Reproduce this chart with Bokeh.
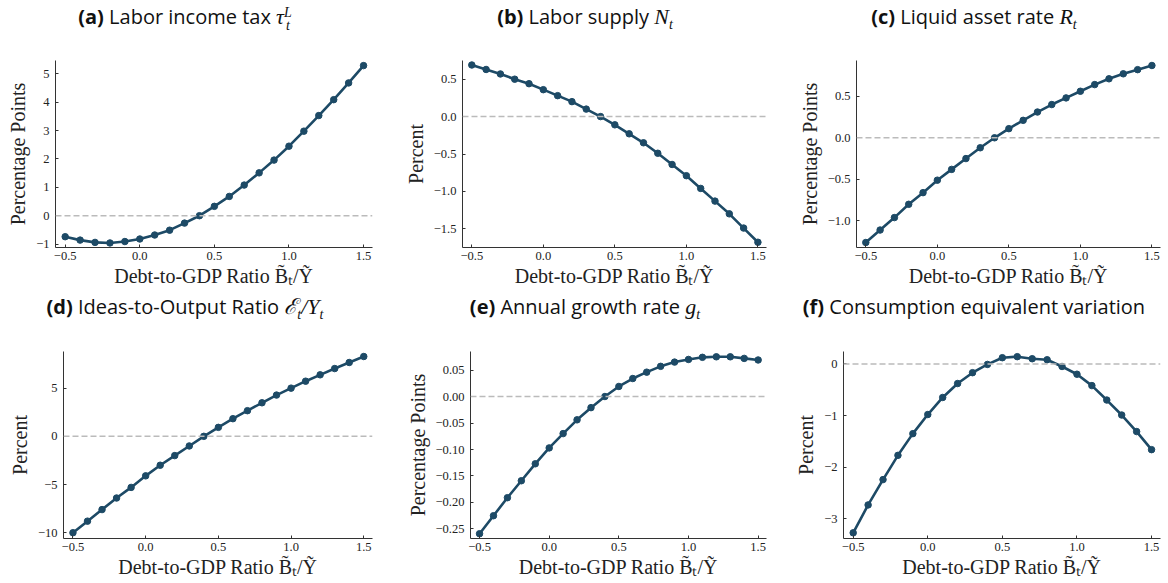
from bokeh.plotting import figure
from bokeh.layouts import column, row
from bokeh.models import Range1d, FixedTicker, Span, Div
from bokeh.embed import file_html
from bokeh.resources import INLINE

# ---------------- data ----------------
debt_ratio = [-0.5, -0.4, -0.3, -0.2, -0.1, 0.0, 0.1, 0.2, 0.3, 0.4, 0.5,
              0.6, 0.7, 0.8, 0.9, 1.0, 1.1, 1.2, 1.3, 1.4, 1.5]

labor_tax = [-0.74, -0.86, -0.94, -0.96, -0.91, -0.82, -0.68, -0.51, -0.26, 0.0, 0.33,
             0.68, 1.08, 1.51, 1.96, 2.45, 2.98, 3.53, 4.09, 4.68, 5.29]
labor_supply = [0.69, 0.63, 0.57, 0.50, 0.44, 0.36, 0.28, 0.20, 0.10, 0.0, -0.11,
                -0.23, -0.35, -0.49, -0.64, -0.79, -0.96, -1.13, -1.30, -1.49, -1.68]
liquid_rate = [-1.26, -1.11, -0.96, -0.80, -0.66, -0.51, -0.38, -0.25, -0.12, 0.0, 0.11,
               0.21, 0.31, 0.40, 0.48, 0.56, 0.64, 0.71, 0.77, 0.82, 0.87]
ideas_output = [-10.0, -8.8, -7.6, -6.4, -5.3, -4.1, -3.0, -2.0, -1.0, 0.0, 0.93,
                1.83, 2.66, 3.48, 4.28, 5.0, 5.72, 6.38, 7.03, 7.66, 8.28]
growth_rate = [-0.259, -0.225, -0.191, -0.159, -0.127, -0.097, -0.070, -0.044, -0.021, 0.0, 0.019,
               0.034, 0.046, 0.057, 0.065, 0.070, 0.074, 0.075, 0.075, 0.072, 0.069]
cons_equiv = [-3.27, -2.73, -2.24, -1.77, -1.35, -0.98, -0.65, -0.38, -0.17, -0.01, 0.12,
              0.14, 0.10, 0.08, -0.05, -0.20, -0.42, -0.70, -0.99, -1.31, -1.66]

x_ticks = [-0.5, 0.0, 0.5, 1.0, 1.5]
x_tick_labels = ["\u22120.5", "0.0", "0.5", "1.0", "1.5"]

a_ticks = [-1, 0, 1, 2, 3, 4, 5]
a_tick_labels = ["\u22121", "0", "1", "2", "3", "4", "5"]
b_ticks = [-1.5, -1.0, -0.5, 0.0, 0.5]
b_tick_labels = ["\u22121.5", "\u22121.0", "\u22120.5", "0.0", "0.5"]
c_ticks = [-1.0, -0.5, 0.0, 0.5]
c_tick_labels = ["\u22121.0", "\u22120.5", "0.0", "0.5"]
d_ticks = [-10, -5, 0, 5]
d_tick_labels = ["\u221210", "\u22125", "0", "5"]
e_ticks = [-0.25, -0.20, -0.15, -0.10, -0.05, 0.0, 0.05]
e_tick_labels = ["\u22120.25", "\u22120.20", "\u22120.15", "\u22120.10", "\u22120.05", "0.00", "0.05"]
f_ticks = [-3, -2, -1, 0]
f_tick_labels = ["\u22123", "\u22122", "\u22121", "0"]

x_label = "Debt-to-GDP Ratio B\u0303\u209c/Y\u0303"

tags = ["(a)", "(b)", "(c)", "(d)", "(e)", "(f)"]
titles = ["Labor income tax", "Labor supply", "Liquid asset rate",
          "Ideas-to-Output Ratio", "Annual growth rate", "Consumption equivalent variation"]

LINE = "#1d4a66"
SERIF = "Liberation Serif"
SANS = "Open Sans"

MATH = "font-family:'Liberation Serif',serif;font-style:italic;font-size:22px;"
SUB = "font-family:'Liberation Serif',serif;font-style:italic;font-size:14px;position:relative;top:5px;"
STACK = ("display:inline-block;vertical-align:-6px;font-family:'Liberation Serif',serif;"
         "font-style:italic;font-size:14px;line-height:13px;")

math_html = [
    f"<span style=\"{MATH}\">\u03c4</span><span style=\"{STACK}\">L<br>t</span>",
    f"<span style=\"{MATH}\">N</span><span style=\"{SUB}\">t</span>",
    f"<span style=\"{MATH}\">R</span><span style=\"{SUB}\">t</span>",
    f"<span style=\"{MATH}\">\u2130</span><span style=\"{SUB}\">t</span>"
    f"<span style=\"{MATH}\">/Y</span><span style=\"{SUB}\">t</span>",
    f"<span style=\"{MATH}\">g</span><span style=\"{SUB}\">t</span>",
    "",
]


def title_div(i, width, height, shift):
    pad_l = max(0, 2 * shift)
    pad_r = max(0, -2 * shift)
    html = (f"<div style=\"width:{width - pad_l - pad_r}px;padding-left:{pad_l}px;padding-right:{pad_r}px;"
            f"padding-top:5px;text-align:center;font-family:'Open Sans',sans-serif;font-size:20px;"
            f"line-height:24px;color:#111;white-space:nowrap;\">"
            f"<b>{tags[i]}</b> {titles[i]} {math_html[i]}</div>")
    return Div(text=html, width=width, height=height, margin=(0, 0, 0, 0))


def make_panel(y, yr, yticks, ylabels, ylab, width, height, left, right, top, bottom):
    p = figure(width=width, height=height,
               x_range=Range1d(-0.565, 1.56), y_range=Range1d(*yr),
               output_backend="svg", toolbar_location=None,
               min_border_left=left, min_border_right=right,
               min_border_top=top, min_border_bottom=bottom, margin=(0, 0, 0, 0))
    p.outline_line_color = None
    p.xgrid.visible = False
    p.ygrid.visible = False

    for ax, ticks, labels in ((p.xaxis[0], x_ticks, x_tick_labels), (p.yaxis[0], yticks, ylabels)):
        ax.ticker = FixedTicker(ticks=ticks)
        ax.major_label_overrides = dict(zip(ticks, labels))
        ax.major_tick_in = 3
        ax.major_tick_out = 0
        ax.minor_tick_line_color = None
        ax.axis_line_color = "#333333"
        ax.major_tick_line_color = "#333333"
        ax.major_label_text_font = SERIF
        ax.major_label_text_font_size = "12.5px"
        ax.major_label_text_color = "#222222"
        ax.axis_label_text_font = SERIF
        ax.axis_label_text_font_size = "20px"
        ax.axis_label_text_font_style = "normal"
        ax.axis_label_text_color = "#222222"
    p.xaxis.axis_label = x_label
    p.yaxis.axis_label = ylab
    p.xaxis.major_label_standoff = 4
    p.xaxis.axis_label_standoff = 2
    p.yaxis.major_label_standoff = 6
    p.yaxis.axis_label_standoff = 4

    p.add_layout(Span(location=0, dimension="width", line_color="#bbbbbb",
                      line_width=1.5, line_dash="6 3"))
    p.line(debt_ratio, y, line_color=LINE, line_width=2.6)
    p.scatter(debt_ratio, y, size=6.5, fill_color=LINE, line_color=LINE)
    return p


pa = make_panel(labor_tax, (-1.12, 5.47), a_ticks, a_tick_labels, "Percentage Points",
                390, 235, 55, 18, 5, 43)
pb = make_panel(labor_supply, (-1.75, 0.75), b_ticks, b_tick_labels, "Percent",
                390, 235, 72, 14, 5, 43)
pc = make_panel(liquid_rate, (-1.32, 0.93), c_ticks, c_tick_labels, "Percentage Points",
                388, 235, 76, 8, 5, 43)
pd = make_panel(ideas_output, (-10.6, 8.8), d_ticks, d_tick_labels, "Percent",
                390, 237, 63, 18, 5, 45)
pe = make_panel(growth_rate, (-0.268, 0.085), e_ticks, e_tick_labels, "Percentage Points",
                390, 237, 80, 14, 5, 45)
pf = make_panel(cons_equiv, (-3.38, 0.24), f_ticks, f_tick_labels, "Percent",
                388, 237, 63, 8, 5, 45)

col_a = column(title_div(0, 390, 55, -5), pa, spacing=0)
col_b = column(title_div(1, 390, 55, 0), pb, spacing=0)
col_c = column(title_div(2, 388, 55, 5), pc, spacing=0)
col_d = column(title_div(3, 390, 56, -5), pd, spacing=0)
col_e = column(title_div(4, 390, 56, 0), pe, spacing=0)
col_f = column(title_div(5, 388, 56, 5), pf, spacing=0)

layout = column(row(col_a, col_b, col_c, spacing=0), row(col_d, col_e, col_f, spacing=0), spacing=0)
open("out.html", "w").write(file_html(layout, INLINE))
